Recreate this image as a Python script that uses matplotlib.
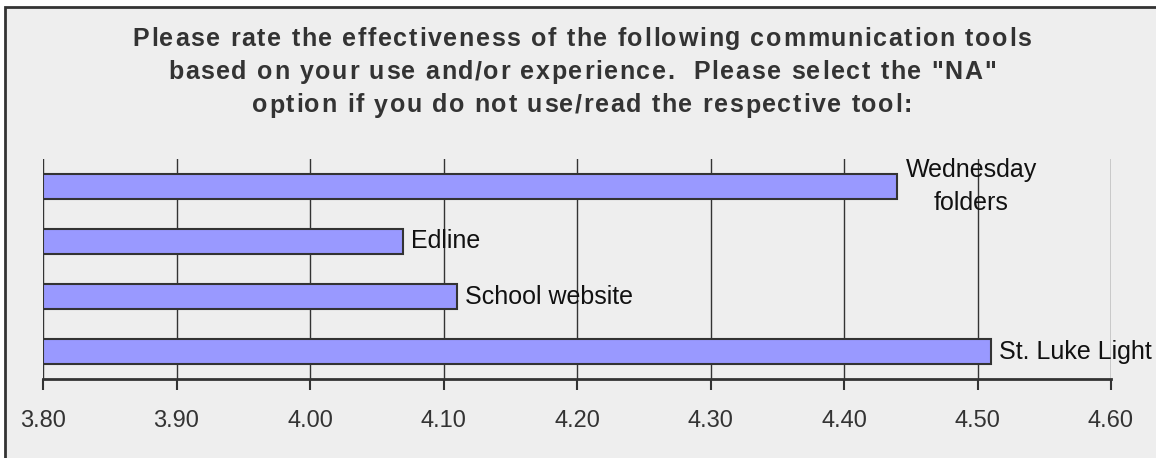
import matplotlib.pyplot as plt
from matplotlib.patches import Rectangle
from matplotlib.font_manager import FontProperties
from matplotlib.textpath import TextToPath

plt.rcParams["font.family"] = ["Liberation Sans", "DejaVu Sans"]

tools = ["Wednesday\nfolders", "Edline", "School website", "St. Luke Light"]
scores = [4.44, 4.07, 4.11, 4.51]
ticks = [3.80, 3.90, 4.00, 4.10, 4.20, 4.30, 4.40, 4.50, 4.60]
title_lines = ['Please rate the effectiveness of the following communication tools',
               'based on your use and/or experience.  Please select the "NA"',
               'option if you do not use/read the respective tool:']

W, H = 1156, 458
DPI = 100
fig = plt.figure(figsize=(W / DPI, H / DPI), dpi=DPI)
fig.patch.set_facecolor("white")

# chart area background with border on top/left
fig.patches.append(Rectangle((5 / W, -0.1), 1.2, (H - 7) / H + 0.1,
                             transform=fig.transFigure, facecolor="#eeeeee",
                             edgecolor="#333333", linewidth=2, zorder=0))

ax = fig.add_axes([43 / W, 1 - 379 / H, (1111 - 43) / W, (379 - 159) / H])
ax.set_zorder(2)
ax.set_facecolor("none")

ypos = list(range(len(tools)))
ax.barh(ypos, [s - ticks[0] for s in scores], left=ticks[0], height=0.45,
        color="#9999ff", edgecolor="#333333", linewidth=1.5, zorder=3)

for y, s, name in zip(ypos, scores, tools):
    ax.text(s + 0.006, y, name, ha="left", va="center", fontsize=18,
            color="#111111", multialignment="center", linespacing=1.45, zorder=4)

ax.set_xlim(ticks[0], ticks[-1])
ax.set_ylim(len(tools) - 0.5, -0.5)
ax.set_xticks(ticks)
ax.set_xticklabels([f"{t:.2f}" for t in ticks], fontsize=17, color="#333333")
ax.set_yticks([])
ax.tick_params(axis="x", direction="out", length=8, width=1.5, color="#333333", pad=14)
ax.grid(axis="x", color="#333333", linewidth=1, zorder=1)
for side in ["left", "right", "top"]:
    ax.spines[side].set_visible(False)
ax.spines["bottom"].set_linewidth(2)
ax.spines["bottom"].set_color("#333333")

# title with letter spacing, drawn character by character
prop = FontProperties(family="Liberation Sans", weight="bold", size=18)
ttp = TextToPath()


def char_w(c):
    if c == " ":
        w1 = ttp.get_text_width_height_descent("a a", prop, ismath=False)[0]
        w2 = ttp.get_text_width_height_descent("aa", prop, ismath=False)[0]
        return (w1 - w2) * DPI / 72
    return ttp.get_text_width_height_descent(c, prop, ismath=False)[0] * DPI / 72


spacing = 1.65
cx = 582
for i, line in enumerate(title_lines):
    widths = [char_w(c) for c in line]
    total = sum(widths) + spacing * (len(line) - 1)
    x = cx - total / 2
    base = 45.5 + i * 33.5
    for c, w in zip(line, widths):
        if c != " ":
            fig.text(x / W, 1 - base / H, c, ha="left", va="baseline",
                     fontproperties=prop, color="#333333", zorder=5)
        x += w + spacing

fig.savefig("out.png", dpi=DPI, facecolor=fig.get_facecolor())
